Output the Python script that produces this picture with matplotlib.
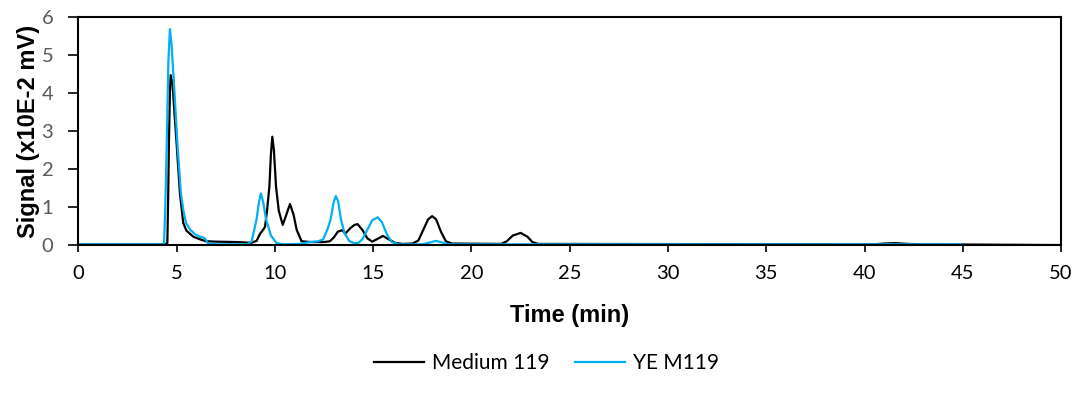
"""
Chromatogram: Medium 119 vs YE M119
"""

import matplotlib.pyplot as plt

# Medium 119 (black)
t_medium = [0, 4.4, 4.53, 4.58, 4.61, 4.66, 4.7, 4.8, 4.9, 5.0, 5.17, 5.34, 5.5, 5.85,
            6.2, 6.5, 7.0, 8.0, 8.8, 9.07, 9.25, 9.4, 9.5, 9.6, 9.72, 9.8, 9.87, 9.95,
            10.06, 10.2, 10.4, 10.55, 10.77, 10.95, 11.11, 11.36, 11.8, 12.5, 12.8, 13.0,
            13.2, 13.4, 13.6, 13.85, 14.05, 14.21, 14.45, 14.7, 14.95, 15.25, 15.5, 15.8,
            16.1, 16.5, 17.0, 17.3, 17.55, 17.8, 18.0, 18.2, 18.45, 18.7, 19.0, 21.5,
            21.8, 22.1, 22.5, 22.85, 23.1, 23.4, 40.5, 41.0, 41.6, 42.2, 43.0, 50.0]
s_medium = [0.02, 0.02, 0.05, 1.5, 2.68, 4.0, 4.47, 4.2, 3.4, 2.68, 1.36, 0.58, 0.38, 0.22,
            0.15, 0.1, 0.09, 0.08, 0.06, 0.11, 0.3, 0.4, 0.48, 0.9, 1.53, 2.4, 2.85, 2.5,
            1.53, 0.9, 0.53, 0.75, 1.08, 0.8, 0.4, 0.1, 0.08, 0.08, 0.1, 0.2,
            0.35, 0.39, 0.31, 0.45, 0.53, 0.55, 0.4, 0.18, 0.09, 0.17, 0.24, 0.15,
            0.06, 0.03, 0.04, 0.12, 0.4, 0.68, 0.76, 0.68, 0.35, 0.1, 0.04, 0.03,
            0.1, 0.25, 0.32, 0.22, 0.08, 0.03, 0.02, 0.04, 0.05, 0.03, 0.02, 0.0]

# YE M119 (blue)
t_ye = [0, 4.36, 4.42, 4.5, 4.58, 4.66, 4.74, 4.85, 4.95, 5.04, 5.22, 5.35, 5.48, 5.7,
        5.95, 6.19, 6.3, 6.45, 6.6, 7.0, 8.6, 8.82, 9.07, 9.18, 9.29, 9.4, 9.55, 9.8,
        10.09, 10.4, 11.2, 11.8, 12.2, 12.46, 12.7, 12.84, 12.98, 13.1, 13.22, 13.36,
        13.55, 13.8, 14.05, 14.25, 14.45, 14.7, 14.95, 15.23, 15.45, 15.7, 15.95, 16.3,
        17.5, 17.9, 18.2, 18.5, 18.8, 45.0]
s_ye = [0.02, 0.02, 0.9, 2.68, 4.8, 5.68, 5.3, 4.4, 3.5, 2.68, 1.36, 0.9, 0.58, 0.4,
        0.28, 0.22, 0.21, 0.17, 0.04, 0.02, 0.02, 0.1, 0.68, 1.1, 1.36, 1.15, 0.68, 0.25,
        0.05, 0.02, 0.03, 0.08, 0.1, 0.15, 0.45, 0.68, 1.1, 1.29, 1.15, 0.68,
        0.3, 0.1, 0.05, 0.06, 0.15, 0.4, 0.65, 0.73, 0.6, 0.28, 0.08, 0.02,
        0.02, 0.07, 0.11, 0.07, 0.02, 0.02]

x_ticks = [0, 5, 10, 15, 20, 25, 30, 35, 40, 45, 50]
y_ticks = [0, 1, 2, 3, 4, 5, 6]

fig = plt.figure(figsize=(10.86, 3.94), dpi=100)
ax = fig.add_axes([0.0721, 0.378, 0.905, 0.579])

ax.plot(t_medium, s_medium, color="black", linewidth=1.6, label="Medium 119")
ax.plot(t_ye, s_ye, color="#00B0F0", linewidth=1.6, label="YE M119")

ax.set_xlim(0, 50)
ax.set_ylim(0, 6)
ax.set_xticks(x_ticks)
ax.set_yticks(y_ticks)

tick_font = "Lato"
for lab in ax.get_xticklabels():
    lab.set_fontfamily(tick_font)
    lab.set_fontsize(14.5)
    lab.set_color("black")
for lab in ax.get_yticklabels():
    lab.set_fontfamily(tick_font)
    lab.set_fontsize(14.5)
    lab.set_color("#595959")

ax.tick_params(axis="x", direction="out", length=5, width=1.2, pad=9)
ax.tick_params(axis="y", direction="out", length=7, width=1.2, pad=11)
for sp in ax.spines.values():
    sp.set_linewidth(1.5)
    sp.set_color("black")

ax.set_xlabel("Time (min)", fontfamily="Liberation Sans", fontweight="bold",
              fontsize=17, labelpad=16)
ax.set_ylabel("Signal (x10E-2 mV)", fontfamily="Liberation Sans", fontweight="bold",
              fontsize=17, labelpad=1)

fig.legend(loc="center", bbox_to_anchor=(0.503, 0.078), ncol=2,
           frameon=False, prop={"family": tick_font, "size": 15},
           handlelength=2.4, handletextpad=0.4, columnspacing=1.2)

plt.savefig("out.png", dpi=100)
